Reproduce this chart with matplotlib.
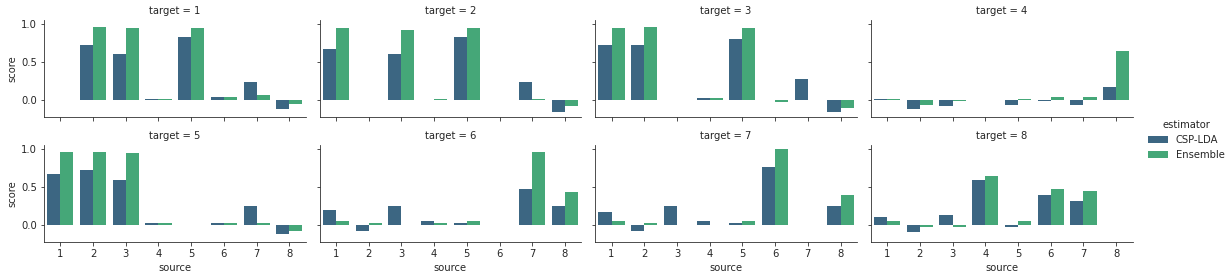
import numpy as np
import pandas as pd
import seaborn as sns
import matplotlib.pyplot as plt

sns.set_style("ticks")

sources = [1, 2, 3, 4, 5, 6, 7, 8]
targets = [1, 2, 3, 4, 5, 6, 7, 8]
estimators = ["CSP-LDA", "Ensemble"]

# scores per target (rows) and source (columns); None where source == target
csp_lda = [
    [None, 0.72, 0.61, 0.01, 0.83, 0.04, 0.24, -0.12],
    [0.67, None, 0.60, -0.01, 0.83, -0.005, 0.24, -0.17],
    [0.73, 0.73, None, 0.027, 0.81, 0.0, 0.27, -0.16],
    [0.013, -0.12, -0.09, None, -0.067, -0.013, -0.067, 0.17],
    [0.67, 0.72, 0.59, 0.027, None, 0.027, 0.25, -0.13],
    [0.19, -0.08, 0.25, 0.053, 0.027, None, 0.47, 0.25],
    [0.17, -0.08, 0.25, 0.053, 0.027, 0.76, None, 0.25],
    [0.107, -0.093, 0.133, 0.59, -0.027, 0.39, 0.31, None],
]
ensemble = [
    [None, 0.97, 0.95, 0.01, 0.95, 0.04, 0.067, -0.06],
    [0.95, None, 0.92, 0.013, 0.95, -0.005, 0.013, -0.09],
    [0.95, 0.97, None, 0.027, 0.95, -0.027, 0.0, -0.107],
    [0.013, -0.067, -0.013, None, 0.013, 0.04, 0.04, 0.64],
    [0.97, 0.97, 0.95, 0.027, None, 0.027, 0.027, -0.08],
    [0.053, 0.027, 0.0, 0.027, 0.053, None, 0.97, 0.44],
    [0.053, 0.027, 0.0, 0.0, 0.053, 1.0, None, 0.40],
    [0.053, -0.027, -0.027, 0.64, 0.053, 0.48, 0.45, None],
]

rows = []
for ti, t in enumerate(targets):
    for si, s in enumerate(sources):
        for est, vals in zip(estimators, [csp_lda, ensemble]):
            v = vals[ti][si]
            rows.append({"target": t, "source": s, "estimator": est,
                         "score": np.nan if v is None else v})
df = pd.DataFrame(rows)

g = sns.catplot(data=df, x="source", y="score", hue="estimator", col="target",
                col_wrap=4, kind="bar", palette="viridis", height=2, aspect=2,
                order=sources, hue_order=estimators, errorbar=None,
                linewidth=0, edgecolor="none")

fig = g.figure
fig.set_size_inches(1231 / 72, 280 / 72)
fig.subplots_adjust(left=0.0357, right=0.920, top=0.929, bottom=0.136,
                    wspace=0.053, hspace=0.29)
sns.move_legend(g, "center left", bbox_to_anchor=(0.925, 0.5), frameon=False)

fig.savefig("out.png", dpi=72)
